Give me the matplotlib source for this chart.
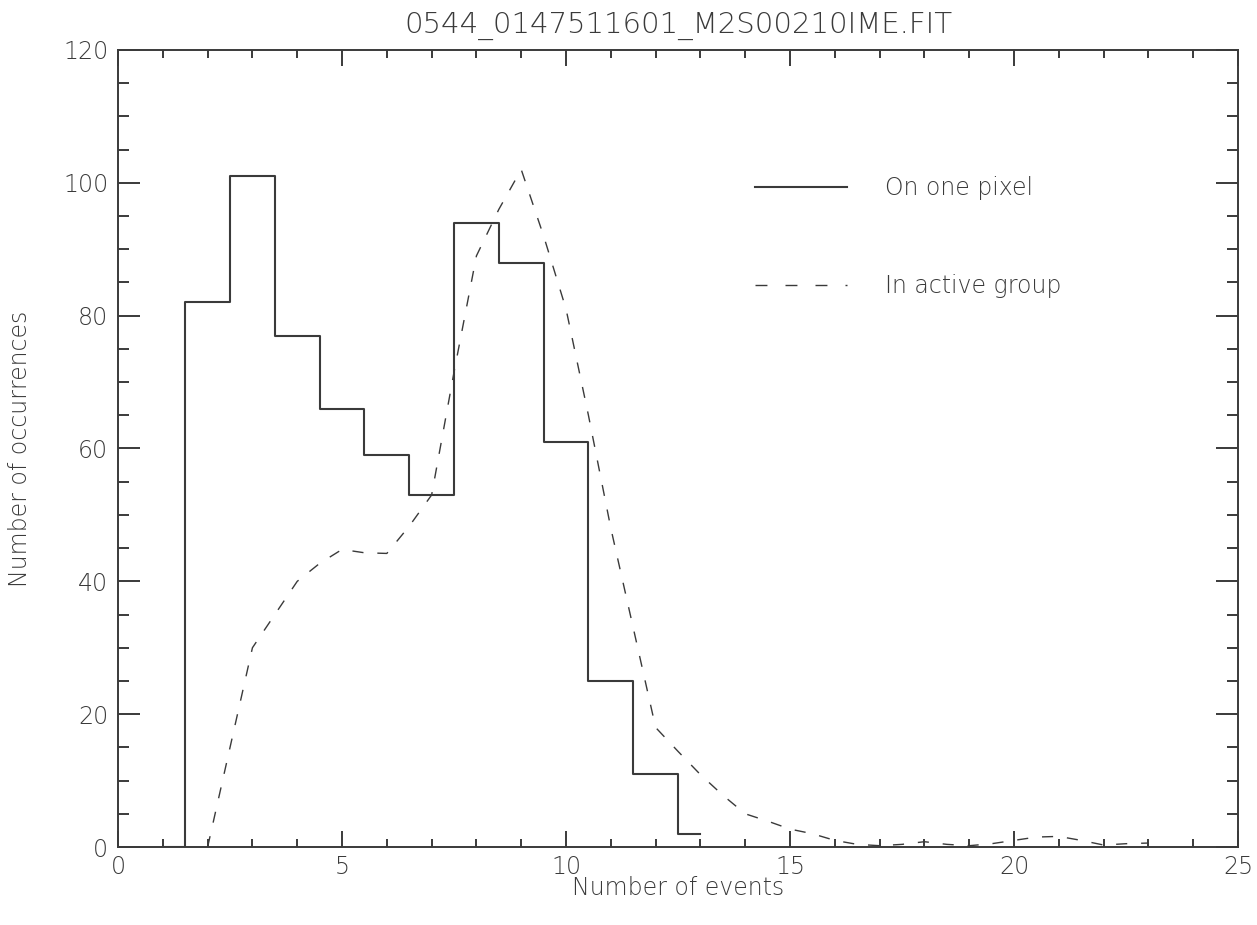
import matplotlib
matplotlib.use("Agg")
import matplotlib.pyplot as plt
from matplotlib.lines import Line2D
from matplotlib.ticker import MultipleLocator

# histogram of events on one pixel (bins centred on integers)
pixel_x = [1, 2, 3, 4, 5, 6, 7, 8, 9, 10, 11, 12, 13]
pixel_counts = [0, 82, 101, 77, 66, 59, 53, 94, 88, 61, 25, 11, 2]

# curve for the active group
group_x = [2.0, 2.5, 3.0, 3.5, 4.0, 4.5, 5.0, 5.5, 6.0, 6.5, 7.0, 7.5, 8.0,
           8.5, 9.0, 9.5, 10.0, 10.5, 11.0, 11.5, 12.0, 12.5, 13.0, 13.5,
           14.0, 14.5, 15.0, 15.5, 16.0, 16.5, 17.0, 17.5, 18.0, 18.5,
           19.0, 19.5, 20.0, 20.5, 21.0, 21.5, 22.0, 22.5, 23.0]
group_counts = [0, 15, 30, 35, 40, 42.7, 44.8, 44.3, 44.2, 48.3, 53, 71.5, 89,
                96, 102, 92, 81, 65, 48, 33, 18, 14.4, 10.9, 7.8,
                5.0, 3.9, 2.7, 2.0, 1.0, 0.4, 0.2, 0.4, 0.8, 0.4,
                0.2, 0.5, 1.0, 1.5, 1.6, 1.0, 0.3, 0.5, 0.6]

title = "0544_0147511601_M2S00210IME.FIT"
labels = ["On one pixel", "In active group"]

ink = "#3a3a3a"
plt.rcParams["font.family"] = ["DejaVu Sans"]
plt.rcParams["font.weight"] = "light"
plt.rcParams["axes.labelweight"] = "light"
plt.rcParams["axes.titleweight"] = "light"
plt.rcParams["lines.scale_dashes"] = False
fs = 17

fig = plt.figure(figsize=(12.57, 9.25), dpi=100)
ax = fig.add_axes([0.0939, 0.0843, 0.8910, 0.8617])

ax.step(pixel_x, pixel_counts, where="mid", color=ink, lw=1.5)
dash = (0, (8.0, 10.0))
ax.plot(group_x, group_counts, color=ink, lw=1.0, linestyle=dash)

ax.set_xlim(0, 25)
ax.set_ylim(0, 120)
ax.xaxis.set_major_locator(MultipleLocator(5))
ax.xaxis.set_minor_locator(MultipleLocator(1))
ax.yaxis.set_major_locator(MultipleLocator(20))
ax.yaxis.set_minor_locator(MultipleLocator(5))

for s in ax.spines.values():
    s.set_color(ink)
    s.set_linewidth(1.4)

ax.tick_params(axis="both", which="both", direction="in", top=True, right=True,
               colors=ink, width=1.4, labelsize=fs)
ax.tick_params(axis="x", which="major", length=11.5, pad=6)
ax.tick_params(axis="x", which="minor", length=5.8)
ax.tick_params(axis="y", which="major", length=16, pad=7)
ax.tick_params(axis="y", which="minor", length=8)

ax.set_xlabel("Number of events", fontsize=fs, color=ink, fontweight="light")
ax.set_ylabel("Number of occurrences", fontsize=fs, color=ink, fontweight="light")
ax.xaxis.set_label_coords(0.5, -0.036)
ax.yaxis.set_label_coords(-0.077, 0.5)
ax.set_title(title, fontsize=21, color=ink, pad=12, fontweight="light")

handles = [Line2D([], [], color=ink, lw=1.5),
           Line2D([], [], color=ink, lw=1.0, linestyle=(0, (8.6, 13.0)))]
ax.legend(handles, labels, loc="upper left", bbox_to_anchor=(0.569, 0.842),
          frameon=False, fontsize=fs, labelcolor=ink, handlelength=3.9,
          handletextpad=1.6, labelspacing=3.15, borderpad=0, borderaxespad=0)

fig.savefig("out.png", dpi=100)
